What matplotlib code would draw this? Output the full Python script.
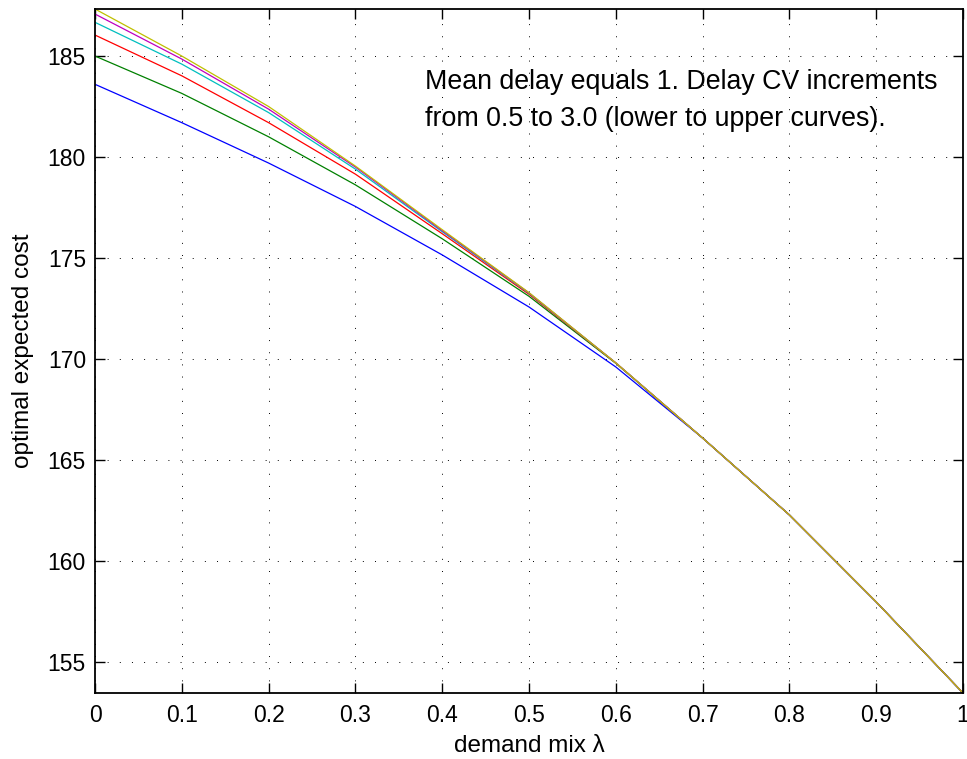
''' optimal expected cost vs demand mix '''
import matplotlib
matplotlib.use('Agg')
import matplotlib.pyplot as plt

plt.rcParams['font.family'] = ['Liberation Sans', 'DejaVu Sans']

# data (one curve per delay CV, lower to upper)
lam = [0.0, 0.1, 0.2, 0.3, 0.4, 0.5, 0.6, 0.7, 0.8, 0.9, 1.0]
tail = [166.08, 162.27, 157.96, 153.45]
cost_cv05 = [183.60, 181.70, 179.70, 177.55, 175.15, 172.57, 169.60] + tail
cost_cv10 = [185.00, 183.15, 181.00, 178.62, 175.95, 173.10, 169.78] + tail
cost_cv15 = [186.04, 184.02, 181.70, 179.15, 176.20, 173.20, 169.80] + tail
cost_cv20 = [186.67, 184.60, 182.20, 179.40, 176.30, 173.25, 169.80] + tail
cost_cv25 = [187.08, 184.85, 182.37, 179.50, 176.35, 173.27, 169.80] + tail
cost_cv30 = [187.33, 185.00, 182.50, 179.55, 176.40, 173.28, 169.80] + tail

curves = [cost_cv05, cost_cv10, cost_cv15, cost_cv20, cost_cv25, cost_cv30]
colors = [(0, 0, 1), (0, 0.5, 0), (1, 0, 0), (0, 0.75, 0.75), (0.75, 0, 0.75), (0.75, 0.75, 0)]

xticks = [0, 0.1, 0.2, 0.3, 0.4, 0.5, 0.6, 0.7, 0.8, 0.9, 1]
xticklabels = ['0', '0.1', '0.2', '0.3', '0.4', '0.5', '0.6', '0.7', '0.8', '0.9', '1']
yticks = [155, 160, 165, 170, 175, 180, 185]

fig = plt.figure(figsize=(9.67, 7.59), dpi=100)
ax = fig.add_axes([95 / 967, 1 - 693 / 759, 868 / 967, 684 / 759])

for y, c in zip(curves, colors):
    ax.plot(lam, y, color=c, linewidth=0.9)

ymin = min(min(y) for y in curves)
ymax = max(max(y) for y in curves)
ax.set_xlim(0, 1)
ax.set_ylim(ymin, ymax)

ax.set_xticks(xticks)
ax.set_xticklabels(xticklabels)
ax.set_yticks(yticks)
ax.tick_params(direction='in', length=7, width=1, labelsize=16.5,
               top=True, right=True)
ax.tick_params(axis='x', pad=8)
ax.tick_params(axis='y', pad=6.5)
for s in ax.spines.values():
    s.set_linewidth(1.3)

ax.grid(True, color='black', linewidth=0.7, linestyle=(0, (1, 11.5)))

ax.set_xlabel('demand mix λ', fontsize=17.5, labelpad=6)
ax.set_ylabel('optimal expected cost', fontsize=17.5, labelpad=10)

ax.text(0.38, 183.38, 'Mean delay equals 1. Delay CV increments', fontsize=19.3, va='baseline')
ax.text(0.38, 181.55, 'from 0.5 to 3.0 (lower to upper curves).', fontsize=19.3, va='baseline')

fig.savefig('out.png', dpi=100)
